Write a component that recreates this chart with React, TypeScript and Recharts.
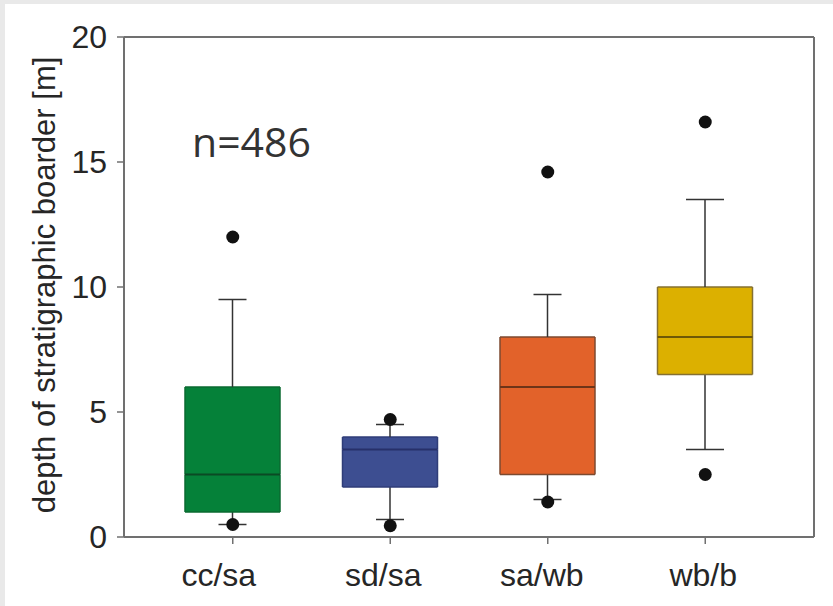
import React from 'react';
import { ComposedChart, Bar, Scatter, XAxis, YAxis, CartesianGrid } from 'recharts';

// Depth of stratigraphic borders, one box per border type
const categories = ['cc/sa', 'sd/sa', 'sa/wb', 'wb/b'];
const whiskerLow = [0.5, 0.7, 1.5, 3.5];
const quartile1 = [1, 2, 2.5, 6.5];
const medians = [2.5, 3.5, 6, 8];
const quartile3 = [6, 4, 8, 10];
const whiskerHigh = [9.5, 4.5, 9.7, 13.5];
const outliersHigh = [12, 4.7, 14.6, 16.6];
const outliersLow = [0.5, 0.45, 1.4, 2.5];
const yTicks = [0, 5, 10, 15, 20];
const sampleSize = 486;

// Styling
const boxFill = ['#058139', '#3d4e91', '#e2622a', '#dcb000'];
const boxEdge = ['#0a6a30', '#2f3d78', '#7c4a30', '#857032'];
const medianStroke = ['#0b4a24', '#27306a', '#6e3418', '#6e5806'];
const capWidth = [28, 28, 28, 38];
const labelShift = [-14, -7, -6, -2];
const WHISKER = '#333333';
const AXIS = '#707070';
const TEXT = '#262626';
const FONT = '"Liberation Sans", Arial, sans-serif';

// Stacked segments: invisible base, lower whisker, lower box half, upper box half, upper whisker
const data = categories.map((name, i) => ({
  name,
  base: whiskerLow[i],
  lowWhisker: quartile1[i] - whiskerLow[i],
  lowBox: medians[i] - quartile1[i],
  highBox: quartile3[i] - medians[i],
  highWhisker: whiskerHigh[i] - quartile3[i],
  outHigh: outliersHigh[i],
  outLow: outliersLow[i],
}));

const idx = (p: any) => Math.max(0, categories.indexOf(p?.payload?.name));

const Empty = () => <g />;

const LowerWhisker = (p: any) => {
  const i = idx(p);
  const cx = p.x + p.width / 2;
  const bottom = p.y + p.height;
  const hw = capWidth[i] / 2;
  return (
    <g>
      <line x1={cx} x2={cx} y1={p.y} y2={bottom} stroke={WHISKER} strokeWidth={1.5} />
      <line x1={cx - hw} x2={cx + hw} y1={bottom} y2={bottom} stroke={WHISKER} strokeWidth={1.5} />
    </g>
  );
};

const UpperWhisker = (p: any) => {
  const i = idx(p);
  const cx = p.x + p.width / 2;
  const hw = capWidth[i] / 2;
  return (
    <g>
      <line x1={cx} x2={cx} y1={p.y} y2={p.y + p.height} stroke={WHISKER} strokeWidth={1.5} />
      <line x1={cx - hw} x2={cx + hw} y1={p.y} y2={p.y} stroke={WHISKER} strokeWidth={1.5} />
    </g>
  );
};

const LowerBox = (p: any) => {
  const i = idx(p);
  const { x, y, width, height } = p;
  const b = y + height;
  return (
    <g>
      <rect x={x} y={y} width={width} height={height} fill={boxFill[i]} />
      <line x1={x} x2={x} y1={y} y2={b} stroke={boxEdge[i]} strokeWidth={1.5} />
      <line x1={x + width} x2={x + width} y1={y} y2={b} stroke={boxEdge[i]} strokeWidth={1.5} />
      <line x1={x} x2={x + width} y1={b} y2={b} stroke={boxEdge[i]} strokeWidth={1.5} />
    </g>
  );
};

const UpperBox = (p: any) => {
  const i = idx(p);
  const { x, y, width, height } = p;
  const b = y + height;
  return (
    <g>
      <rect x={x} y={y} width={width} height={height} fill={boxFill[i]} />
      <line x1={x} x2={x} y1={y} y2={b} stroke={boxEdge[i]} strokeWidth={1.5} />
      <line x1={x + width} x2={x + width} y1={y} y2={b} stroke={boxEdge[i]} strokeWidth={1.5} />
      <line x1={x} x2={x + width} y1={y} y2={y} stroke={boxEdge[i]} strokeWidth={1.5} />
      <line x1={x} x2={x + width} y1={b} y2={b} stroke={medianStroke[i]} strokeWidth={2} />
    </g>
  );
};

const Dot = (p: any) =>
  p.cx == null || p.cy == null ? <g /> : <circle cx={p.cx} cy={p.cy} r={6.5} fill="#111111" />;

const CategoryTick = (p: any) => {
  const i = Math.max(0, categories.indexOf(p?.payload?.value));
  return (
    <text
      x={p.x + labelShift[i]}
      y={p.y}
      dy="0.71em"
      textAnchor="middle"
      fontSize={32}
      fill={TEXT}
      fontFamily={FONT}
    >
      {p.payload.value}
    </text>
  );
};

export default function App() {
  return (
    <div style={{ position: 'absolute', left: 0, top: 0, width: 833, height: 606, background: '#e9e9e9' }}>
      <div style={{ position: 'absolute', left: 5, top: 4, width: 828, height: 602, background: '#ffffff' }} />
      <div style={{ position: 'absolute', left: 0, top: 0 }}>
        <ComposedChart
          width={833}
          height={606}
          data={data}
          margin={{ top: 37, right: 19, bottom: 0, left: 0 }}
          style={{ fontFamily: FONT }}
        >
          {/* top and right edges of the plot frame */}
          <CartesianGrid
            stroke={AXIS}
            strokeWidth={2}
            horizontalCoordinatesGenerator={({ offset }: any) => [offset.top]}
            verticalCoordinatesGenerator={({ offset }: any) => [offset.left + offset.width]}
          />
          <XAxis
            dataKey="name"
            type="category"
            height={69}
            padding={{ left: 30, right: 30 }}
            stroke={AXIS}
            axisLine={{ stroke: AXIS, strokeWidth: 2 }}
            tickLine={{ stroke: AXIS, strokeWidth: 1.5 }}
            tickSize={7}
            tickMargin={19}
            tick={<CategoryTick />}
          />
          <YAxis
            type="number"
            domain={[0, 20]}
            ticks={yTicks}
            width={124}
            stroke={AXIS}
            axisLine={{ stroke: AXIS, strokeWidth: 2 }}
            tickLine={{ stroke: AXIS, strokeWidth: 1.5 }}
            tickSize={7}
            tickMargin={10}
            tick={{ fontSize: 32, fill: TEXT, fontFamily: FONT }}
          />
          <Bar dataKey="base" stackId="box" barSize={95} shape={<Empty />} isAnimationActive={false} />
          <Bar dataKey="lowWhisker" stackId="box" barSize={95} shape={<LowerWhisker />} isAnimationActive={false} />
          <Bar dataKey="lowBox" stackId="box" barSize={95} shape={<LowerBox />} isAnimationActive={false} />
          <Bar dataKey="highBox" stackId="box" barSize={95} shape={<UpperBox />} isAnimationActive={false} />
          <Bar dataKey="highWhisker" stackId="box" barSize={95} shape={<UpperWhisker />} isAnimationActive={false} />
          <Scatter dataKey="outHigh" shape={<Dot />} isAnimationActive={false} />
          <Scatter dataKey="outLow" shape={<Dot />} isAnimationActive={false} />
        </ComposedChart>
      </div>
      <svg width={833} height={606} style={{ position: 'absolute', left: 0, top: 0, pointerEvents: 'none' }}>
        <text
          x={55}
          y={285}
          transform="rotate(-90 55 285)"
          textAnchor="middle"
          fontSize={31}
          fill={TEXT}
          fontFamily={FONT}
        >
          depth of stratigraphic boarder [m]
        </text>
        <text x={192} y={157} fontSize={41} fill="#333333" fontFamily='"Open Sans", sans-serif'>
          {`n=${sampleSize}`}
        </text>
      </svg>
    </div>
  );
}
